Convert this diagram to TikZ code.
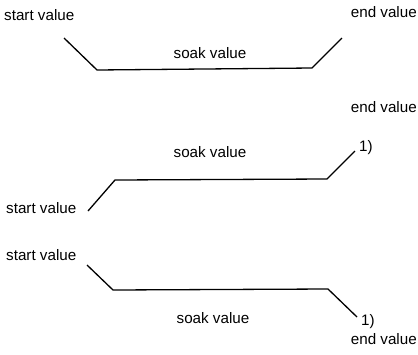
\documentclass[tikz,border=0pt]{standalone}
\usepackage{fontspec}
\setmainfont{Liberation Sans}
\usetikzlibrary{positioning}

\begin{document}
\begin{tikzpicture}[x=1pt, y=-1pt,
    lbl/.style={font=\fontsize{15.2}{17}\selectfont, inner sep=0pt},
    curve/.style={line width=1.3pt}]
	%%%%% START %%%%%
	\useasboundingbox (0,0) rectangle (418,354);

	% soak below start and end
	\node[lbl, anchor=west] (startA) at (4,15) {start value};
	\node[lbl, anchor=east] (endA) at (417,12) {end value};
	\node[lbl] (soakA) at (210,53) {soak value};
	\coordinate (a1) at (64,38);
	\coordinate (a2) at (97,70);
	\coordinate (a3) at (312,68);
	\coordinate (a4) at (342,38);
	\draw[curve] (a1) -- (a2) -- (a3) -- (a4);

	% rising ramps
	\node[lbl, anchor=east] (endB) at (417,107) {end value};
	\node[lbl] (soakB) at (210,152) {soak value};
	\node[lbl, anchor=west] (startB) at (6,208) {start value};
	\node[lbl] (noteB) at (366,148) {1)};
	\coordinate (b1) at (88,211);
	\coordinate (b2) at (115,180);
	\coordinate (b3) at (327,179);
	\coordinate (b4) at (355,151);
	\draw[curve] (b1) -- (b2) -- (b3) -- (b4);

	% falling ramps
	\node[lbl, anchor=west] (startC) at (6,255) {start value};
	\node[lbl] (soakC) at (213,318) {soak value};
	\node[lbl] (noteC) at (368,322) {1)};
	\node[lbl, anchor=east] (endC) at (417,339) {end value};
	\coordinate (c1) at (87,265);
	\coordinate (c2) at (113,290);
	\coordinate (c3) at (328,289);
	\coordinate (c4) at (357,317);
	\draw[curve] (c1) -- (c2) -- (c3) -- (c4);
	%%%%% END %%%%%
\end{tikzpicture}
\end{document}
